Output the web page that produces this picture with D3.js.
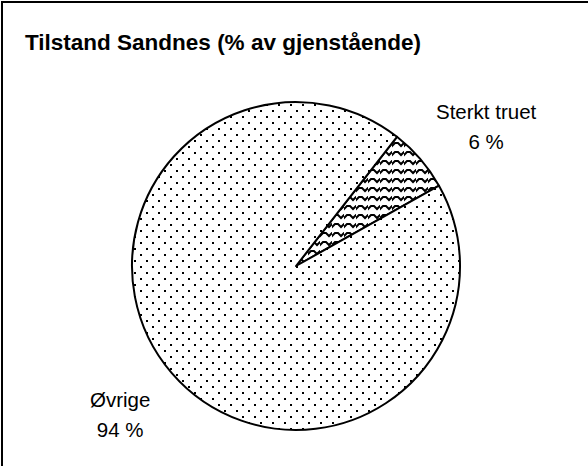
<!DOCTYPE html>
<html><head><meta charset="utf-8">
<script src="https://cdn.jsdelivr.net/npm/d3@7"></script>
<style>html,body{margin:0;padding:0;background:#fff;overflow:hidden}</style>
</head><body>
<script>
const title = "Tilstand Sandnes (% av gjenstående)";
const categories = ["Sterkt truet", "Øvrige"];
const values = [6.3, 93.7];
const fills = ["wave", "dots"];

const W = 588, H = 466;
const cx = 296, cy = 266, R = 164;
const font = "'Liberation Sans', Arial, Helvetica, sans-serif";

const svg = d3.select("body").append("svg").attr("width", W).attr("height", H);
const defs = svg.append("defs");

const dots = defs.append("pattern").attr("id", "dots").attr("patternUnits", "userSpaceOnUse")
  .attr("width", 12).attr("height", 12);
dots.append("rect").attr("width", 12).attr("height", 12).attr("fill", "#fff");
dots.append("rect").attr("x", 0).attr("y", 0).attr("width", 2).attr("height", 2).attr("fill", "#000");
dots.append("rect").attr("x", 6).attr("y", 6).attr("width", 2).attr("height", 2).attr("fill", "#000");

const wave = defs.append("pattern").attr("id", "wave").attr("patternUnits", "userSpaceOnUse")
  .attr("width", 12).attr("height", 9);
wave.append("rect").attr("width", 12).attr("height", 9).attr("fill", "#fff");
wave.append("path").attr("d", "M-3,3 L0,6 L3,3 L6,3 L9,6 L12,3 L15,3")
  .attr("fill", "none").attr("stroke", "#000").attr("stroke-width", 2);

// frame
svg.append("rect").attr("x", 2).attr("y", 2).attr("width", 700).attr("height", 600)
  .attr("fill", "none").attr("stroke", "#000").attr("stroke-width", 2);

svg.append("text").attr("x", 25).attr("y", 50)
  .attr("font-family", font).attr("font-size", 22.5).attr("font-weight", "bold")
  .attr("fill", "#000").text(title);

const startDeg = 38;
const pie = d3.pie().sort(null).value(d => d)
  .startAngle(startDeg * Math.PI / 180).endAngle(startDeg * Math.PI / 180 + 2 * Math.PI);
const arcs = pie(values);
const arc = d3.arc().innerRadius(0).outerRadius(R);

const g = svg.append("g").attr("transform", `translate(${cx},${cy})`);
g.selectAll("path.slice").data(arcs).join("path").attr("class", "slice")
  .attr("d", arc).attr("fill", (d, i) => `url(#${fills[i]})`)
  .attr("stroke", "#000").attr("stroke-width", 2).attr("stroke-linejoin", "round");

// labels
const gaps = [10, 24];
const nudges = [[8, 0], [-3, 0]];
const lineH = 30;
arcs.forEach((d, i) => {
  const a = (d.startAngle + d.endAngle) / 2;
  const s = Math.sin(a), c = -Math.cos(a);
  const lines = [categories[i], Math.round(values[i]) + " %"];
  const t = g.append("text").attr("font-family", font).attr("font-size", 20.5)
    .attr("fill", "#000").attr("text-anchor", "middle");
  lines.forEach((l, k) => t.append("tspan").attr("x", 0).attr("y", k * lineH).text(l));
  const bb = t.node().getBBox();
  const rr = R + gaps[i];
  const px = rr * s + Math.sign(s) * bb.width / 2 + nudges[i][0];
  const py = rr * c + Math.sign(c) * bb.height / 2 + nudges[i][1];
  const ox = px - (bb.x + bb.width / 2), oy = py - (bb.y + bb.height / 2);
  t.attr("transform", `translate(${ox},${oy})`);
});
</script>
</body></html>
